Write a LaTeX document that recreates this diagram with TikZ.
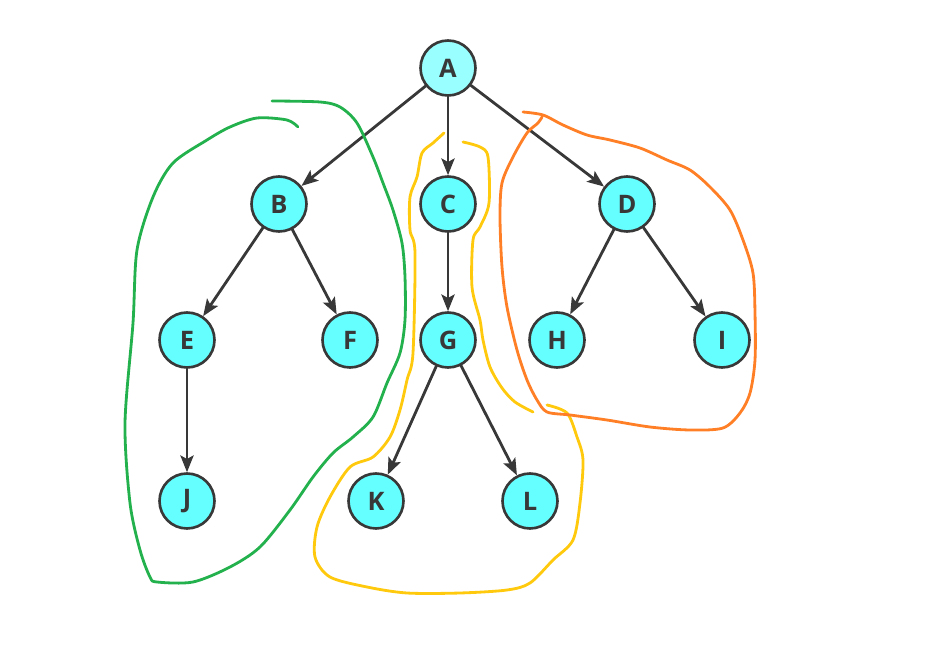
\documentclass[tikz,border=0pt]{standalone}
\usepackage{fontspec}
\setsansfont{Open Sans}
\usepackage{xcolor}
\usetikzlibrary{arrows.meta}

\definecolor{nodecyan}{HTML}{66FFFF}
\definecolor{rootcyan}{HTML}{99FFFF}
\definecolor{edgegray}{HTML}{383838}
\definecolor{penGreen}{HTML}{22B14C}
\definecolor{penYellow}{HTML}{FFC90E}
\definecolor{penOrange}{HTML}{FF7F27}

\begin{document}
\begin{tikzpicture}[x=0.02cm, y=-0.02cm, line cap=round, line join=round,
	treenode/.style={circle, draw=edgegray, line width=1.5pt, fill=nodecyan,
		minimum size=1.1cm, inner sep=0pt, text=edgegray,
		font=\sffamily\bfseries\fontsize{14.5}{17}\selectfont},
	treeedge/.style={draw=edgegray, line width=1.6pt,
		-{Stealth[length=9.5pt, width=7.5pt, inset=2pt]}},
	pen/.style={line width=1.6pt}]
		
		\useasboundingbox (0,0) rectangle (950,662);
		
		% Nodes of the tree
		\node[treenode, fill=rootcyan] (a) at (448,68) {A};
		\node[treenode] (b) at (279,204) {B};
		\node[treenode] (c) at (448,204) {C};
		\node[treenode] (d) at (627,204) {D};
		\node[treenode] (e) at (187,340) {E};
		\node[treenode] (f) at (350,340) {F};
		\node[treenode] (g) at (448,340) {G};
		\node[treenode] (h) at (557,340) {H};
		\node[treenode] (i) at (722,340) {I};
		\node[treenode] (j) at (187,501) {J};
		\node[treenode] (k) at (376,501) {K};
		\node[treenode] (l) at (530,501) {L};
		
		% Edges
		\foreach \from/\to in {a/b, a/c, a/d, b/e, b/f, c/g, d/h, d/i, e/j, g/k, g/l}
		\draw[treeedge] (\from) -- (\to);
		
		% Green loop round the subtree of B
		\draw[pen, penGreen] plot[smooth] coordinates {
			(272,101) (320,102) (340,107) (357,123) (373,157) (383,183) (393,210)
			(402,243) (405,277) (405,320) (400,353) (387,383) (373,417) (353,437)
			(333,453) (313,477) (290,510) (260,547) (230,567) (193,582) (157,582)
			(150,577) (140,550) (130,503) (125,423) (133,323) (137,250) (153,197)
			(173,163) (207,140) (230,127) (257,118) (287,120) (298,127)};
		
		% Yellow loop round the subtree of C
		\draw[pen, penYellow] plot[smooth] coordinates {
			(444,133) (433,143) (422,153) (417,177) (410,197) (410,230) (415,253)
			(413,353) (407,380) (400,410) (390,437) (373,457) (350,467) (330,497)
			(317,527) (315,557) (330,577) (367,587) (407,593) (460,593) (507,590)
			(530,583) (553,560) (573,540) (580,503) (583,460) (577,437) (567,413)
			(547,405)};
		\draw[pen, penYellow] plot[smooth] coordinates {
			(533,412) (515,402) (502,388) (490,367) (483,340) (480,320) (472,287)
			(473,240) (480,227) (489,203) (488,157) (480,147) (463,142)};
		
		% Orange loop round the subtree of D
		\draw[pen, penOrange] plot[smooth] coordinates {
			(523,112) (543,115) (563,125) (587,135) (610,140) (640,148) (667,160)
			(690,170) (710,187) (730,210) (743,240) (753,273) (755,313) (755,360)
			(750,393) (740,413) (723,428) (690,430) (650,427) (607,420) (570,415)
			(547,412) (537,400) (527,380) (517,350) (507,307) (502,267) (500,217)
			(502,183) (513,157) (527,133) (538,123) (542,117)};
		
	\end{tikzpicture}
\end{document}
